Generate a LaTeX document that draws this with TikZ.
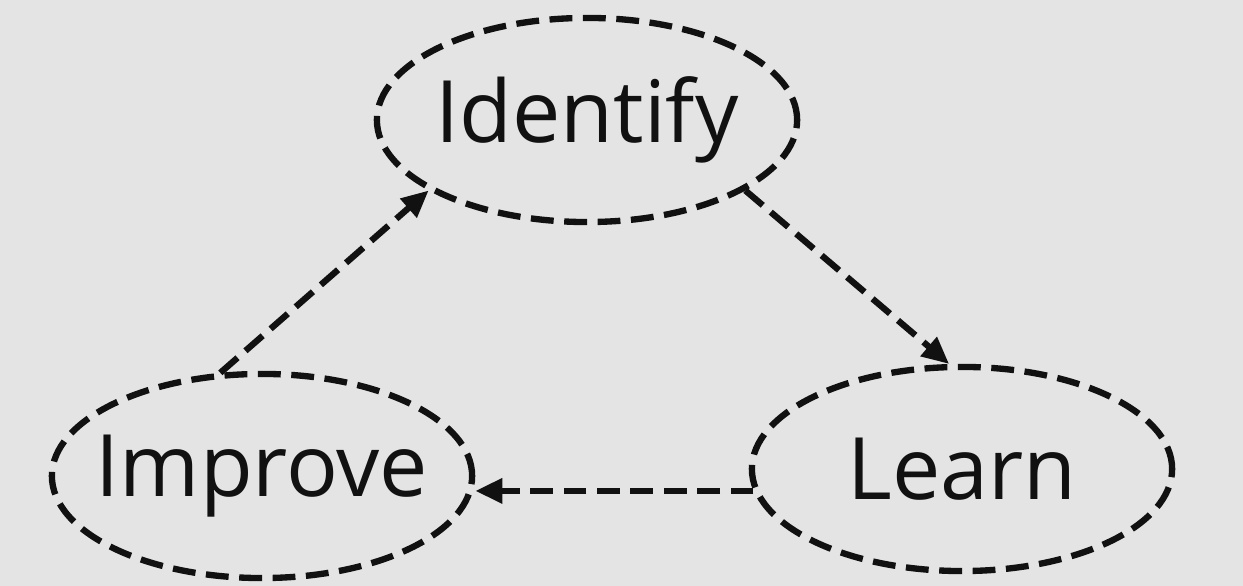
\documentclass[tikz,border=0pt]{standalone}
\usepackage{fontspec}
\setmainfont{Open Sans}
\usetikzlibrary{arrows.meta, shapes.geometric}
\definecolor{bg}{HTML}{E4E4E4}
\definecolor{edge}{HTML}{111111}
\tikzset{
  st/.style={draw=edge, ellipse, line width=1.8pt, dash pattern=on 6.5pt off 3pt,
    minimum width=4.2cm, minimum height=2.04cm, inner xsep=-1cm, inner ysep=0pt,
    font=\fontsize{24.5}{30}\selectfont, text=edge},
  a/.style={-{Triangle[length=0.27cm, width=0.24cm]}, draw=edge, line width=1.8pt, dash pattern=on 6.5pt off 3pt},
}
\begin{document}
\begin{tikzpicture}[x=0.01cm, y=-0.01cm]
\fill[bg] (0,0) rectangle (1243,586);
\useasboundingbox (0,0) rectangle (1243,586);
\node[st] (id) at (587,120) {Identify};
\node[st] (lr) at (962,469) {Learn};
\node[st] (im) at (262,476) {Improve};

\draw[a] (im.112) -- (id.204);
\draw[a] (id.-24) -- (lr.97);
\draw[a] (lr.186) -- (im.east |- lr.186);
\end{tikzpicture}
\end{document}
